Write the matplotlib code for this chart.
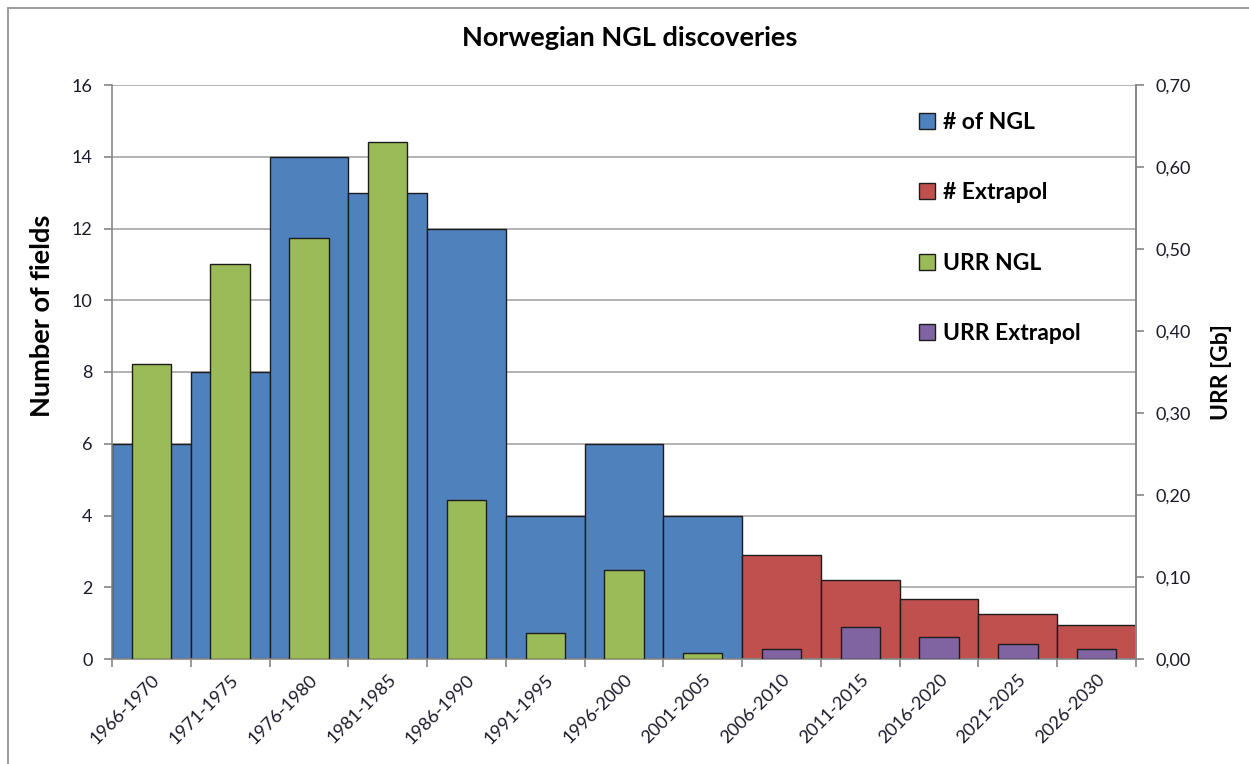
import matplotlib
matplotlib.use("Agg")
import matplotlib.pyplot as plt
from matplotlib.patches import Patch
from matplotlib.lines import Line2D
import numpy as np

periods = ["1966-1970", "1971-1975", "1976-1980", "1981-1985", "1986-1990",
           "1991-1995", "1996-2000", "2001-2005", "2006-2010", "2011-2015",
           "2016-2020", "2021-2025", "2026-2030"]
n_ngl = [6, 8, 14, 13, 12, 4, 6, 4, None, None, None, None, None]
n_extrapol = [None] * 8 + [2.91, 2.21, 1.67, 1.25, 0.95]
urr_ngl = [0.36, 0.482, 0.513, 0.630, 0.194, 0.032, 0.108, 0.007,
           None, None, None, None, None]
urr_extrapol = [None] * 8 + [0.0126, 0.0387, 0.0272, 0.0183, 0.0126]

c_blue = "#4F81BD"
c_red = "#C0504D"
c_green = "#9BBB59"
c_purple = "#8064A2"
edge = "#1c1c1c"
grid_c = "#a6a6a6"
spine_c = "#868686"
txt_c = "#1a1a2a"

plt.rcParams['font.family'] = ['Lato', 'DejaVu Sans']

fig = plt.figure(figsize=(12.49, 7.64), dpi=100)
ax = fig.add_axes([112/1249, 1-659/764, (1136-112)/1249, (659-85)/764])
ax2 = ax.twinx()

x = np.arange(len(periods))

def sel(vals):
    xs = [xi for xi, v in zip(x, vals) if v is not None]
    vs = [v for v in vals if v is not None]
    return xs, vs

xs, vs = sel(n_ngl)
ax.bar(xs, vs, width=1.0, color=c_blue, edgecolor=edge, linewidth=1.0, zorder=2)
xs, vs = sel(n_extrapol)
ax.bar(xs, vs, width=1.0, color=c_red, edgecolor=edge, linewidth=1.0, zorder=2)
xs, vs = sel(urr_ngl)
ax2.bar(xs, vs, width=0.5, color=c_green, edgecolor=edge, linewidth=1.0, zorder=3)
xs, vs = sel(urr_extrapol)
ax2.bar(xs, vs, width=0.5, color=c_purple, edgecolor=edge, linewidth=1.0, zorder=3)

ax.set_xlim(-0.5, len(periods) - 0.5)
ax.set_ylim(0, 16)
ax2.set_ylim(0, 0.70)

ax.set_yticks(np.arange(0, 17, 2))
ax.yaxis.grid(True, color=grid_c, linewidth=1.2, zorder=0)
ax.set_axisbelow(True)

ax2.set_yticks(np.arange(0, 0.71, 0.10))
ax2.set_yticklabels([f"{v:.2f}".replace(".", ",") for v in np.arange(0, 0.71, 0.10)])

# x ticks: marks at boundaries, labels at centers
ax.set_xticks(np.arange(-0.5, len(periods), 1.0))
ax.set_xticklabels([])
ax.set_xticks(x, minor=True)
ax.set_xticklabels(periods, minor=True, rotation=45, ha="right",
                   rotation_mode="anchor", fontsize=13, color=txt_c)
ax.tick_params(axis="x", which="minor", length=0, pad=9)
ax.tick_params(axis="x", which="major", length=6, color=spine_c, width=1.2)
ax.tick_params(axis="y", length=6, color=spine_c, width=1.2, labelsize=13,
               labelcolor=txt_c, pad=8)
ax2.tick_params(axis="y", length=6, color=spine_c, width=1.2, labelsize=13,
                labelcolor=txt_c, pad=8)

for a in (ax, ax2):
    for s in a.spines.values():
        s.set_color(spine_c)
        s.set_linewidth(1.2)
    a.spines["top"].set_visible(False)
ax2.spines["left"].set_visible(False)
ax2.spines["bottom"].set_visible(False)

fig.text(42/1249, 1-316/764, "Number of fields", rotation=90, ha="center", va="center",
         fontsize=19.5, fontweight="bold", color="black")
fig.text(1221/1249, 1-372/764, "URR [Gb]", rotation=90, ha="center", va="center",
         fontsize=16.5, fontweight="bold", color="black")

fig.text(630/1249, 1-38/764, "Norwegian NGL discoveries", ha="center", va="center",
         fontsize=19.5, fontweight="bold")

handles = [Patch(facecolor=c_blue, edgecolor=edge, linewidth=1.0, label="# of NGL"),
           Patch(facecolor=c_red, edgecolor=edge, linewidth=1.0, label="# Extrapol"),
           Patch(facecolor=c_green, edgecolor=edge, linewidth=1.0, label="URR NGL"),
           Patch(facecolor=c_purple, edgecolor=edge, linewidth=1.0, label="URR Extrapol")]
leg = ax2.legend(handles=handles, loc="upper left",
                 bbox_to_anchor=(919/1249, 1-112/764), bbox_transform=fig.transFigure,
                 frameon=False, prop={"weight": "bold", "size": 16.5},
                 handlelength=0.7, handleheight=0.7, handletextpad=0.35,
                 labelspacing=2.15, borderaxespad=0, borderpad=0)

# outer chart border (left and top visible)
fig.add_artist(Line2D([8/1249, 8/1249], [0, 1-8/764], transform=fig.transFigure,
                      color="#a0a0a0", linewidth=1.5))
fig.add_artist(Line2D([8/1249, 1], [1-8/764, 1-8/764], transform=fig.transFigure,
                      color="#a0a0a0", linewidth=1.5))

fig.savefig("out.png", dpi=100)
